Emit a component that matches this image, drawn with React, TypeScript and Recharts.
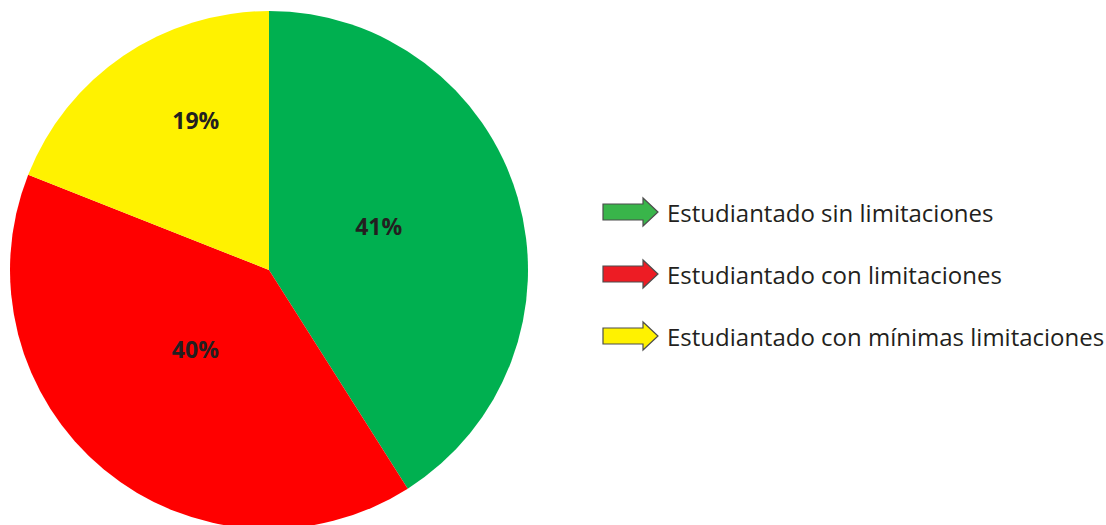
import { PieChart, Pie, Cell, Legend } from "recharts"

const categories = [
	"Estudiantado sin limitaciones",
	"Estudiantado con limitaciones",
	"Estudiantado con mínimas limitaciones",
]
const percents = [41, 40, 19]
const sliceColors = ["#00b050", "#ff0000", "#fff200"]
const arrowColors = ["#39b54a", "#ed1c24", "#fff200"]

// where each percentage label sits: share of the radius, and a nudge off the mid angle
const labelRadius = [0.456, 0.417, 0.645]
const labelTurn = [5.6, -3.4, -8.2]

const data = categories.map((name, i) => ({ name, value: percents[i] }))

const RAD = Math.PI / 180

const renderLabel = (props: any) => {
	const { cx, cy, midAngle, outerRadius, index, value } = props
	const r = outerRadius * labelRadius[index]
	const a = (midAngle + labelTurn[index]) * RAD
	const x = cx + r * Math.cos(-a)
	const y = cy + r * Math.sin(-a)
	return (
		<text
			x={x}
			y={y}
			fill="#231f20"
			textAnchor="middle"
			dominantBaseline="central"
			fontSize={23}
			fontWeight="bold"
			fontFamily="Open Sans"
		>
			{value}%
		</text>
	)
}

const Arrow = ({ color }: { color: string }) => (
	<svg width={60} height={32} style={{ display: "block" }}>
		<polygon
			points="2,8 42,8 42,2 57,16 42,30 42,24 2,24"
			fill={color}
			stroke="#4d4d4d"
			strokeWidth={1.2}
		/>
	</svg>
)

const renderLegend = () => (
	<div style={{ fontFamily: "Open Sans", fontSize: 24, color: "#231f20" }}>
		{categories.map((c, i) => (
			<div
				key={c}
				style={{ display: "flex", alignItems: "center", height: 62, whiteSpace: "nowrap" }}
			>
				<Arrow color={arrowColors[i]} />
				<span style={{ marginLeft: 6 }}>{c}</span>
			</div>
		))}
	</div>
)

export default function App() {
	return (
		<div style={{ position: "absolute", left: 0, top: 0 }}>
			<PieChart width={1106} height={525} margin={{ top: 0, right: 0, bottom: 0, left: 0 }}>
				<Pie
					data={data}
					dataKey="value"
					nameKey="name"
					cx={269}
					cy={270}
					outerRadius={259}
					startAngle={90}
					endAngle={-270}
					stroke="none"
					label={renderLabel}
					labelLine={false}
					isAnimationActive={false}
				>
					{data.map((d, i) => (
						<Cell key={d.name} fill={sliceColors[i]} />
					))}
				</Pie>
				<Legend
					content={renderLegend}
					wrapperStyle={{ left: 601, top: 181, width: 505 }}
				/>
			</PieChart>
		</div>
	)
}
